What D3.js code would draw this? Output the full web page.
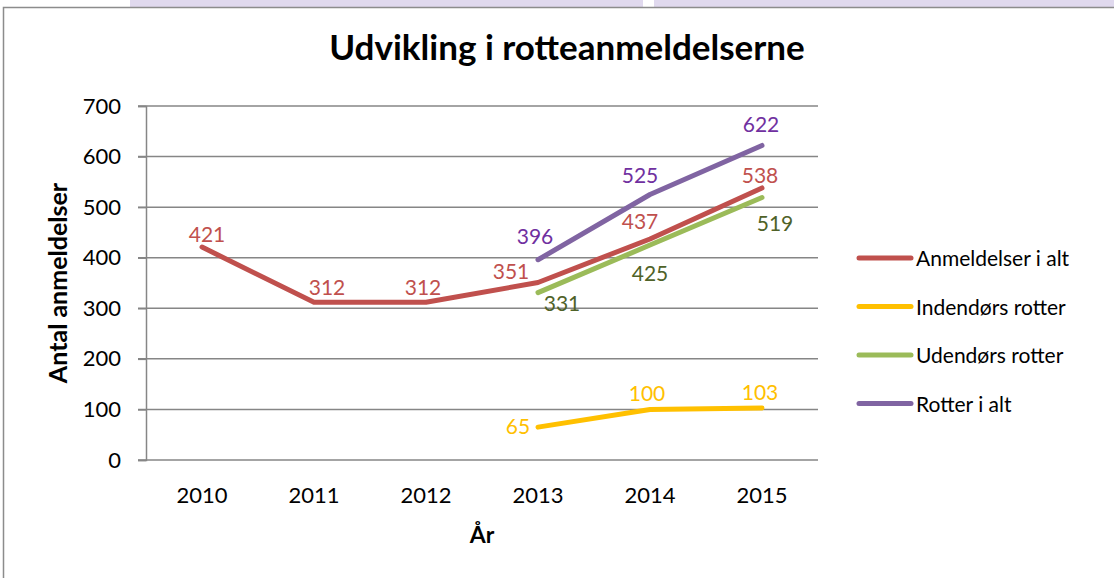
<!DOCTYPE html>
<html>
<head>
<meta charset="utf-8">
<script src="https://cdn.jsdelivr.net/npm/d3@7"></script>
<style>
    body { margin: 0; background: #fff; }
    svg { display: block; font-family: Lato, 'Open Sans', sans-serif; }
</style>
</head>
<body>
<div id="chart"></div>
<script>
// Data
const years = ['2010', '2011', '2012', '2013', '2014', '2015'];
const seriesNames = ['Anmeldelser i alt', 'Indendørs rotter', 'Udendørs rotter', 'Rotter i alt'];
const anmeldelserIAlt = [421, 312, 312, 351, 437, 538];
const indendoersRotter = [null, null, null, 65, 100, 103];
const udendoersRotter = [null, null, null, 331, 425, 519];
const rotterIAlt = [null, null, null, 396, 525, 622];
const yTicks = [0, 100, 200, 300, 400, 500, 600, 700];

const width = 1114;
const height = 578;
const plot = { left: 146, right: 818, top: 106, bottom: 460 };

const colors = {
    line: ['#C0504D', '#FFC000', '#9BBB59', '#8064A2'],
    label: ['#C0504D', '#FFC000', '#4F6228', '#7030A0'],
    grid: '#868686',
    frame: '#8c8c8c'
};

// Label offsets relative to each point (dx = centre shift, dy = baseline shift)
const labelOffsets = [
    [[5, -5], [13, -7], [-3, -7], [-27, -3], [-10, -10], [-2, -5]],
    [null, null, null, [-20, 7], [-3, -8], [-2, -8]],
    [null, null, null, [24, 18], [0, 36], [13, 33]],
    [null, null, null, [-3, -16], [-10, -12], [-1, -13]]
];

const allSeries = [anmeldelserIAlt, indendoersRotter, udendoersRotter, rotterIAlt];

const svg = d3.select('#chart')
    .append('svg')
    .attr('width', width)
    .attr('height', height);

// Strip of the page above the chart frame
svg.append('rect').attr('x', 130).attr('y', 0).attr('width', 513).attr('height', 7).attr('fill', '#E0D9EE');
svg.append('rect').attr('x', 654).attr('y', 0).attr('width', 470).attr('height', 7).attr('fill', '#E0D9EE');

// Chart frame
svg.append('rect')
    .attr('x', 3.5).attr('y', 7.5)
    .attr('width', width + 10).attr('height', height + 10)
    .attr('fill', '#fff')
    .attr('stroke', colors.frame)
    .attr('stroke-width', 1.5);

const x = d3.scalePoint()
    .domain(years)
    .range([plot.left, plot.right])
    .padding(0.5);

const y = d3.scaleLinear()
    .domain([0, 700])
    .range([plot.bottom, plot.top]);

// Gridlines
svg.append('g')
    .selectAll('line')
    .data(yTicks)
    .join('line')
    .attr('x1', plot.left - 8)
    .attr('x2', plot.right)
    .attr('y1', d => y(d))
    .attr('y2', d => y(d))
    .attr('stroke', colors.grid)
    .attr('stroke-width', 1.5);

// Y axis
const yAxis = svg.append('g')
    .attr('transform', `translate(${plot.left},0)`)
    .call(d3.axisLeft(y).tickValues(yTicks).tickSize(8).tickPadding(17));
yAxis.select('.domain').attr('stroke', colors.grid).attr('stroke-width', 1.5);
yAxis.selectAll('.tick line').attr('stroke', colors.grid).attr('stroke-width', 1.5);
yAxis.selectAll('.tick text')
    .attr('font-size', 22)
    .attr('font-family', 'Lato, sans-serif')
    .attr('fill', '#000');

// X axis labels
svg.append('g')
    .selectAll('text')
    .data(years)
    .join('text')
    .attr('x', d => x(d))
    .attr('y', 503)
    .attr('text-anchor', 'middle')
    .attr('font-size', 22)
    .attr('fill', '#000')
    .text(d => d);

// Lines
const line = d3.line()
    .defined(d => d.value != null)
    .x(d => x(d.year))
    .y(d => y(d.value));

allSeries.forEach((values, i) => {
    const pts = values.map((v, j) => ({ year: years[j], value: v }));
    svg.append('path')
        .datum(pts)
        .attr('fill', 'none')
        .attr('stroke', colors.line[i])
        .attr('stroke-width', 5)
        .attr('stroke-linecap', 'round')
        .attr('stroke-linejoin', 'round')
        .attr('d', line);
});

// Data labels
allSeries.forEach((values, i) => {
    const pts = values
        .map((v, j) => ({ year: years[j], value: v, off: labelOffsets[i][j] }))
        .filter(d => d.value != null);
    svg.append('g')
        .selectAll('text')
        .data(pts)
        .join('text')
        .attr('x', d => x(d.year) + d.off[0])
        .attr('y', d => y(d.value) + d.off[1])
        .attr('text-anchor', 'middle')
        .attr('font-size', 21)
        .attr('fill', colors.label[i])
        .text(d => d.value);
});

// Title
svg.append('text')
    .attr('x', 567)
    .attr('y', 60)
    .attr('text-anchor', 'middle')
    .attr('font-size', 35)
    .attr('font-weight', 'bold')
    .attr('fill', '#000')
    .text('Udvikling i rotteanmeldelserne');

// Axis titles
svg.append('text')
    .attr('transform', `translate(67,${(plot.top + plot.bottom) / 2}) rotate(-90)`)
    .attr('text-anchor', 'middle')
    .attr('font-size', 25)
    .attr('font-weight', 'bold')
    .attr('fill', '#000')
    .text('Antal anmeldelser');

svg.append('text')
    .attr('x', (plot.left + plot.right) / 2)
    .attr('y', 543)
    .attr('text-anchor', 'middle')
    .attr('font-size', 23)
    .attr('font-weight', 'bold')
    .attr('fill', '#000')
    .text('År');

// Legend
const legend = svg.append('g')
    .selectAll('g')
    .data(seriesNames)
    .join('g')
    .attr('transform', (d, i) => `translate(859,${258 + i * 48.5})`);

legend.append('line')
    .attr('x1', 0).attr('x2', 52)
    .attr('stroke', (d, i) => colors.line[i])
    .attr('stroke-width', 5)
    .attr('stroke-linecap', 'round');

legend.append('text')
    .attr('x', 57)
    .attr('y', 8)
    .attr('font-size', 21)
    .attr('fill', '#000')
    .text(d => d);
</script>
</body>
</html>
